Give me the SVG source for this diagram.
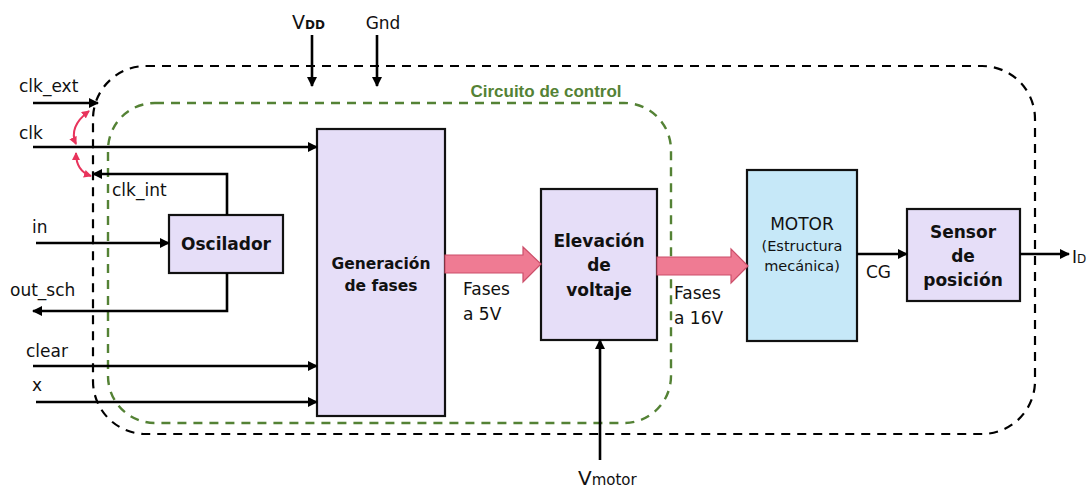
<svg xmlns="http://www.w3.org/2000/svg" width="1089" height="489" viewBox="0 0 1089 489">
<style>
text{font-family:"DejaVu Sans","Liberation Sans",sans-serif;fill:#111}
.lbl{font-size:17px}
.b{font-weight:bold}
.box{fill:#E6DEF8;stroke:#111;stroke-width:2.2}
.motor{fill:#C6E8F8;stroke:#111;stroke-width:2.2}
.wire{fill:none;stroke:#000;stroke-width:2.6}
.fat{fill:#EF7B93;stroke:#CC4F6A;stroke-width:1.2}
.pink{fill:none;stroke:#E8345C;stroke-width:2}
</style>
<defs>
<marker id="ah" markerWidth="10" markerHeight="10" refX="9" refY="5" orient="auto" markerUnits="userSpaceOnUse">
<path d="M0,0 L10,5 L0,10 z" fill="#000"/>
</marker>
<marker id="ph" markerWidth="8" markerHeight="8" refX="7" refY="4" orient="auto-start-reverse" markerUnits="userSpaceOnUse">
<path d="M0,0 L8,4 L0,8 z" fill="#E8345C"/>
</marker>
</defs>
<g id="outer">
<rect x="93" y="66" width="942" height="368" rx="53" ry="53" fill="none" stroke="#000" stroke-width="2.2" stroke-dasharray="9,7"/>
</g>
<g id="control">
<rect x="108" y="103" width="563" height="320" rx="47" ry="47" fill="none" stroke="#548235" stroke-width="2.4" stroke-dasharray="9,7"/>
<text x="546" y="97" text-anchor="middle" style="font-family:'Liberation Sans',sans-serif;font-size:17px;font-weight:bold;fill:#548235">Circuito de control</text>
</g>
<g id="gen">
<rect class="box" x="317" y="129" width="128" height="287"/>
<text x="381" y="269" text-anchor="middle" class="b" font-size="15.5">Generación</text>
<text x="381" y="291" text-anchor="middle" class="b" font-size="15.5">de fases</text>
</g>
<g id="osc">
<rect class="box" x="169" y="215" width="114" height="58"/>
<text x="226" y="250" text-anchor="middle" class="b" font-size="17">Oscilador</text>
</g>
<g id="elev">
<rect class="box" x="541" y="189" width="116" height="151"/>
<text x="599" y="247" text-anchor="middle" class="b" font-size="17">Elevación</text>
<text x="599" y="271" text-anchor="middle" class="b" font-size="17">de</text>
<text x="599" y="296" text-anchor="middle" class="b" font-size="17">voltaje</text>
</g>
<g id="motor">
<rect class="motor" x="747" y="170" width="110" height="171"/>
<text x="802" y="230" text-anchor="middle" font-size="17">MOTOR</text>
<text x="802" y="251" text-anchor="middle" font-size="14.5">(Estructura</text>
<text x="802" y="271" text-anchor="middle" font-size="14.5">mecánica)</text>
</g>
<g id="sensor">
<rect class="box" x="907" y="209" width="113" height="92"/>
<text x="963" y="238" text-anchor="middle" class="b" font-size="17">Sensor</text>
<text x="963" y="262" text-anchor="middle" class="b" font-size="17">de</text>
<text x="963" y="286" text-anchor="middle" class="b" font-size="17">posición</text>
</g>
<g id="connectors">
<path class="fat" d="M445,255 H523 V247 L541,264 L523,282 V273 H445 Z"/>
<path class="fat" d="M657,257 H731 V249 L748,266 L731,283 V275 H657 Z"/>
<line class="wire" x1="33" y1="103" x2="98" y2="103" marker-end="url(#ah)"/>
<line class="wire" x1="33" y1="147" x2="317" y2="147" marker-end="url(#ah)"/>
<polyline class="wire" points="227,215 227,174 93,174" marker-end="url(#ah)"/>
<line class="wire" x1="36" y1="243" x2="169" y2="243" marker-end="url(#ah)"/>
<polyline class="wire" points="227,273 227,311 33,311" marker-end="url(#ah)"/>
<line class="wire" x1="33" y1="366" x2="317" y2="366" marker-end="url(#ah)"/>
<line class="wire" x1="36" y1="402" x2="317" y2="402" marker-end="url(#ah)"/>
<line class="wire" x1="312" y1="35" x2="312" y2="86" marker-end="url(#ah)"/>
<line class="wire" x1="377" y1="35" x2="377" y2="86" marker-end="url(#ah)"/>
<line class="wire" x1="600" y1="460" x2="600" y2="340" marker-end="url(#ah)"/>
<line class="wire" x1="857" y1="254" x2="907" y2="254" marker-end="url(#ah)"/>
<line class="wire" x1="1020" y1="254" x2="1069" y2="254" marker-end="url(#ah)"/>
<path class="pink" d="M89,111 Q68,127 76,144" marker-start="url(#ph)" marker-end="url(#ph)"/>
<path class="pink" d="M76,153 Q76,171 91,176" marker-start="url(#ph)" marker-end="url(#ph)"/>
</g>
<g id="labels">
<text x="19" y="92" class="lbl">clk_ext</text>
<text x="19" y="139" class="lbl">clk</text>
<text x="112" y="196" class="lbl">clk_int</text>
<text x="32" y="233" class="lbl">in</text>
<text x="10" y="296" class="lbl">out_sch</text>
<text x="26" y="357" class="lbl">clear</text>
<text x="32" y="391" class="lbl">x</text>
<text x="292" y="29" style="font-size:19px">V<tspan font-size="12" font-weight="bold">DD</tspan></text>
<text x="383" y="29" text-anchor="middle" class="lbl">Gnd</text>
<text x="578" y="485" style="font-size:20px">V<tspan font-size="15">motor</tspan></text>
<text x="463" y="295" class="lbl">Fases</text>
<text x="463" y="320" class="lbl">a 5V</text>
<text x="674" y="299" class="lbl">Fases</text>
<text x="674" y="324" class="lbl">a 16V</text>
<text x="866" y="278" class="lbl">CG</text>
<text x="1072" y="263" class="lbl">I<tspan font-size="12">D</tspan></text>
</g>
</svg>
